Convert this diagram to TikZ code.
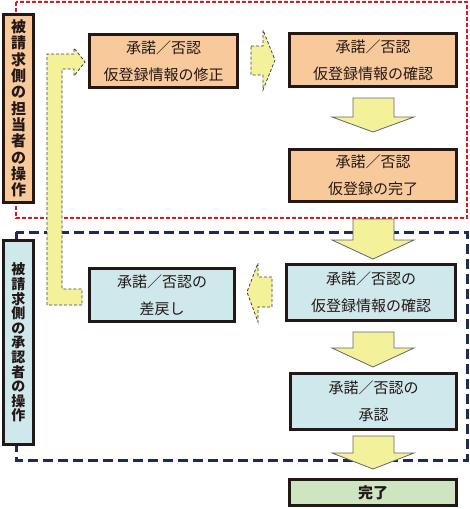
\documentclass[tikz,border=0pt]{standalone}
\usepackage{fontspec}
\setmainfont{Noto Sans CJK JP}
\usetikzlibrary{arrows.meta}
\definecolor{peach}{HTML}{F8C99B}
\definecolor{paleblue}{HTML}{CEE8EC}
\definecolor{palegreen}{HTML}{CDE6C1}
\definecolor{lemon}{HTML}{F3F29B}
\definecolor{boxline}{HTML}{231815}
\definecolor{dotred}{HTML}{E6141E}
\definecolor{navy}{HTML}{1D2B5C}
\tikzset{%
  stepA/.style={draw=boxline , line width=3pt , fill=peach , align=center , inner sep=0pt , text=boxline , font=\fontsize{15}{27}\selectfont},
  stepB/.style={stepA , fill=paleblue},
  side/.style={draw=boxline , line width=3pt , inner sep=0pt , align=center , minimum width=30pt , text=boxline},
  flow/.style={fill=lemon , draw=black!60 , line width=0.8pt},
  back/.style={fill=lemon , draw=black!75 , line width=0.8pt , dash pattern=on 3pt off 2pt},
}
% down block arrow: top, neck, tip
\newcommand\dnarrow[3]{%
  \filldraw[flow] (353,#1) -- (394,#1) -- (394,#2) -- (414,#2) -- (373,#3) -- (332,#2) -- (353,#2) -- cycle ;}

\begin{document}
\begin{tikzpicture}[x=1pt,y=-1pt]
\useasboundingbox (0,0) rectangle (470,509);
% operator / approver frames
\draw[dotred , line width=2.5pt , dash pattern=on 4pt off 2pt] (16,2) rectangle (467,218);
\draw[navy , line width=3pt , dash pattern=on 10pt off 5pt] (16,232) rectangle (467,460);
\node[side , fill=peach , minimum height=188pt , font=\bfseries\fontsize{15}{16.3}\selectfont] (side1) at (18.5,108.5) {被\\請\\求\\側\\の\\担\\当\\者\\の\\操\\作} ;
\node[side , fill=paleblue , minimum height=204pt , font=\bfseries\fontsize{14}{14.6}\selectfont] (side2) at (18.5,342.5) {被\\請\\求\\側\\の\\承\\認\\者\\の\\操\\作} ;
% steps
\node[stepA , minimum width=148pt , minimum height=53pt] (fix) at (163.5,61) {承諾／否認\\仮登録情報の修正} ;
\node[stepA , minimum width=167pt , minimum height=53pt] (check) at (373,60) {承諾／否認\\仮登録情報の確認} ;
\node[stepA , minimum width=167pt , minimum height=52pt] (temp) at (373,175.5) {承諾／否認\\仮登録の完了} ;
\node[stepB , minimum width=145pt , minimum height=53pt] (sendback) at (162,295) {承諾／否認の\\差戻し} ;
\node[stepB , minimum width=169pt , minimum height=56pt] (check2) at (371,292.5) {承諾／否認の\\仮登録情報の確認} ;
\node[stepB , minimum width=166pt , minimum height=56pt] (approve) at (373.5,401.5) {承諾／否認の\\承認} ;
\node[stepA , fill=palegreen , minimum width=167pt , minimum height=26pt , font=\bfseries\fontsize{15}{18}\selectfont] (finish) at (373,492.5) {完了} ;
% flow arrows
\dnarrow{98}{117}{132}
\dnarrow{219}{240}{259}
\dnarrow{332}{348}{367}
\dnarrow{436}{453}{469}
% sideways (dashed) arrows
\filldraw[back] (251,46) -- (263,46) -- (263,30) -- (275,60) -- (263,90) -- (263,75) -- (251,75) -- cycle ;
\filldraw[back] (272,277) -- (258,277) -- (258,263) -- (247,292) -- (258,322) -- (258,307) -- (272,307) -- cycle ;
\filldraw[back] (82,305) -- (47,305) -- (47,54) -- (74,54) -- (74,48) -- (85,62) -- (74,76) -- (74,69) -- (62,69) -- (62,289) -- (82,289) -- cycle ;
\end{tikzpicture}
\end{document}
